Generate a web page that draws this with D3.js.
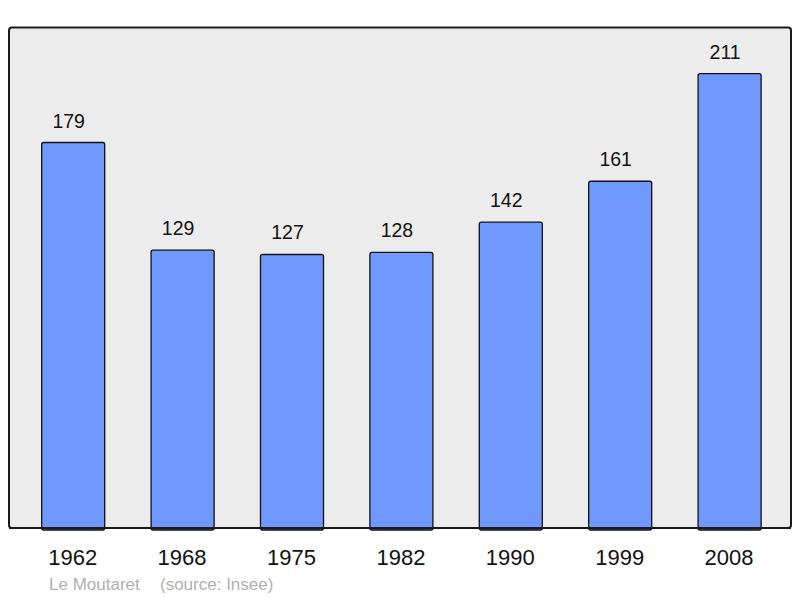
<!DOCTYPE html>
<html><head><meta charset="utf-8">
<script src="https://cdn.jsdelivr.net/npm/d3@7"></script>
<style>body{margin:0;background:#fff}svg{display:block}</style>
</head><body>
<svg id="c" width="800" height="598"></svg>
<script>
const years = ["1962","1968","1975","1982","1990","1999","2008"];
const population = [179,129,127,128,142,161,211];
const commune = "Le Moutaret";
const sourceText = "(source: Insee)";
const yMax = 232.4;

const svg = d3.select("#c");
const panel = {x0: 9, y0: 27.5, x1: 791, y1: 528};

svg.append("rect").attr("x", panel.x0).attr("y", panel.y0)
  .attr("width", panel.x1 - panel.x0).attr("height", panel.y1 - panel.y0)
  .attr("rx", 3).attr("fill", "#ececec").attr("stroke", "#1a1a1a").attr("stroke-width", 2);

const x = d3.scaleBand().domain(years).range([18.5, 784.3]).paddingInner(0.424).paddingOuter(0.212);
const y = d3.scaleLinear().domain([0, yMax]).range([panel.y1, panel.y0]);

const data = years.map((yr, i) => ({yr, v: population[i]}));

svg.selectAll("rect.bar").data(data).enter().append("rect").attr("class","bar")
  .attr("x", d => x(d.yr)).attr("y", d => y(d.v))
  .attr("width", x.bandwidth()).attr("height", d => panel.y1 - y(d.v) + 2)
  .attr("rx", 2).attr("fill", "#7099ff").attr("stroke", "#111").attr("stroke-width", 1.3);

svg.append("line").attr("x1", panel.x0).attr("x2", panel.x1).attr("y1", panel.y1).attr("y2", panel.y1)
  .attr("stroke", "#1a1a1a").attr("stroke-width", 2);

svg.selectAll("text.val").data(data).enter().append("text").attr("class","val")
  .attr("x", d => x(d.yr) + x.bandwidth()/2 - 4.5).attr("y", d => y(d.v) - 15)
  .attr("text-anchor", "middle").attr("font-family", "Liberation Sans, Arial, sans-serif")
  .attr("font-size", 19.5).attr("fill", "#111").text(d => d.v);

svg.selectAll("text.yr").data(years).enter().append("text").attr("class","yr")
  .attr("x", d => x(d) + x.bandwidth()/2 - 0.5).attr("y", 564.5)
  .attr("text-anchor", "middle").attr("font-family", "Liberation Sans, Arial, sans-serif")
  .attr("font-size", 22).attr("fill", "#111").text(d => d);

svg.append("text").attr("x", 49).attr("y", 590).attr("font-family", "Liberation Sans, Arial, sans-serif")
  .attr("font-size", 17).attr("fill", "#b0b0b0").text(commune);
svg.append("text").attr("x", 160).attr("y", 590).attr("font-family", "Liberation Sans, Arial, sans-serif")
  .attr("font-size", 17).attr("fill", "#b0b0b0").text(sourceText);
</script>
</body></html>
